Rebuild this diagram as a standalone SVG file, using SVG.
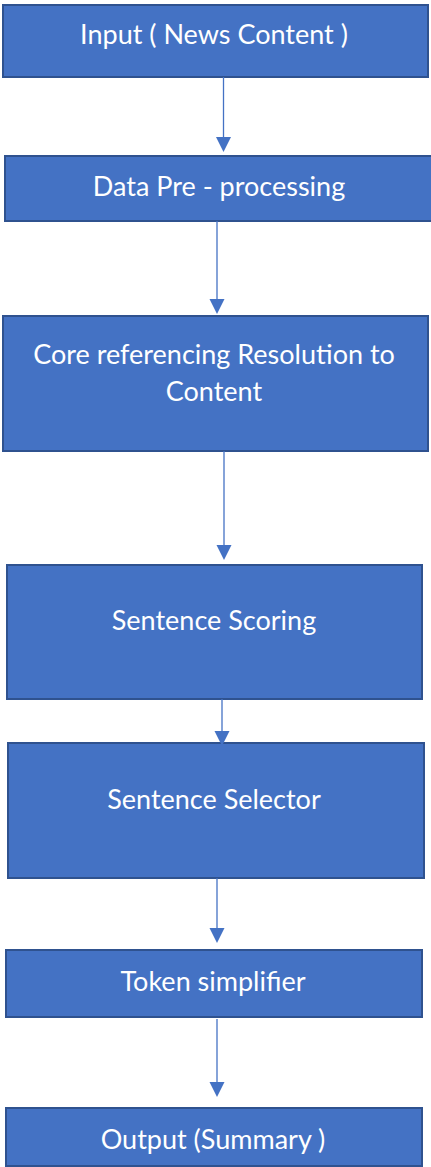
<svg xmlns="http://www.w3.org/2000/svg" width="431" height="1167" viewBox="0 0 431 1167">
<style>
.box{fill:#4472C4;stroke:#2F528F;stroke-width:2}
.lbl{fill:#FFFFFF;font-family:Lato,"Open Sans",sans-serif;font-size:27px;text-anchor:middle}
.edge{stroke:#4472C4;stroke-width:1.3;fill:none}
.head{fill:#4472C4}
</style>
<rect width="431" height="1167" fill="#FFFFFF"/>
<g id="n1"><rect class="box" x="3" y="5" width="425" height="72"/><text class="lbl" x="214" y="44">Input ( News Content )</text></g>
<g id="n2"><rect class="box" x="5" y="156" width="428" height="65"/><text class="lbl" x="219" y="196">Data Pre - processing</text></g>
<g id="n3"><rect class="box" x="3" y="316" width="425" height="135"/><text class="lbl" x="214" y="364">Core referencing Resolution to</text><text class="lbl" x="214" y="401">Content</text></g>
<g id="n4"><rect class="box" x="7" y="565" width="415" height="134"/><text class="lbl" x="214" y="630">Sentence Scoring</text></g>
<g id="n5"><rect class="box" x="8" y="743" width="416" height="135"/><text class="lbl" x="214" y="809">Sentence Selector</text></g>
<g id="n6"><rect class="box" x="6" y="950" width="416" height="67"/><text class="lbl" x="213" y="991">Token simplifier</text></g>
<g id="n7"><rect class="box" x="6" y="1108" width="416" height="58"/><text class="lbl" x="213" y="1149">Output (Summary )</text></g>
<g id="edges">
<line class="edge" x1="223.5" y1="77" x2="223.5" y2="138"/><polygon class="head" points="216,137 231,137 223.5,152"/>
<line class="edge" x1="217" y1="221" x2="217" y2="300"/><polygon class="head" points="209.5,299 224.5,299 217,314"/>
<line class="edge" x1="224" y1="451" x2="224" y2="546"/><polygon class="head" points="216.5,545 231.5,545 224,560"/>
<line class="edge" x1="222" y1="699" x2="222" y2="732"/><polygon class="head" points="214.5,731 229.5,731 222,746"/>
<line class="edge" x1="217" y1="878" x2="217" y2="929"/><polygon class="head" points="209.5,928 224.5,928 217,943"/>
<line class="edge" x1="217" y1="1019" x2="217" y2="1083"/><polygon class="head" points="209.5,1082 224.5,1082 217,1097"/>
</g>
</svg>
